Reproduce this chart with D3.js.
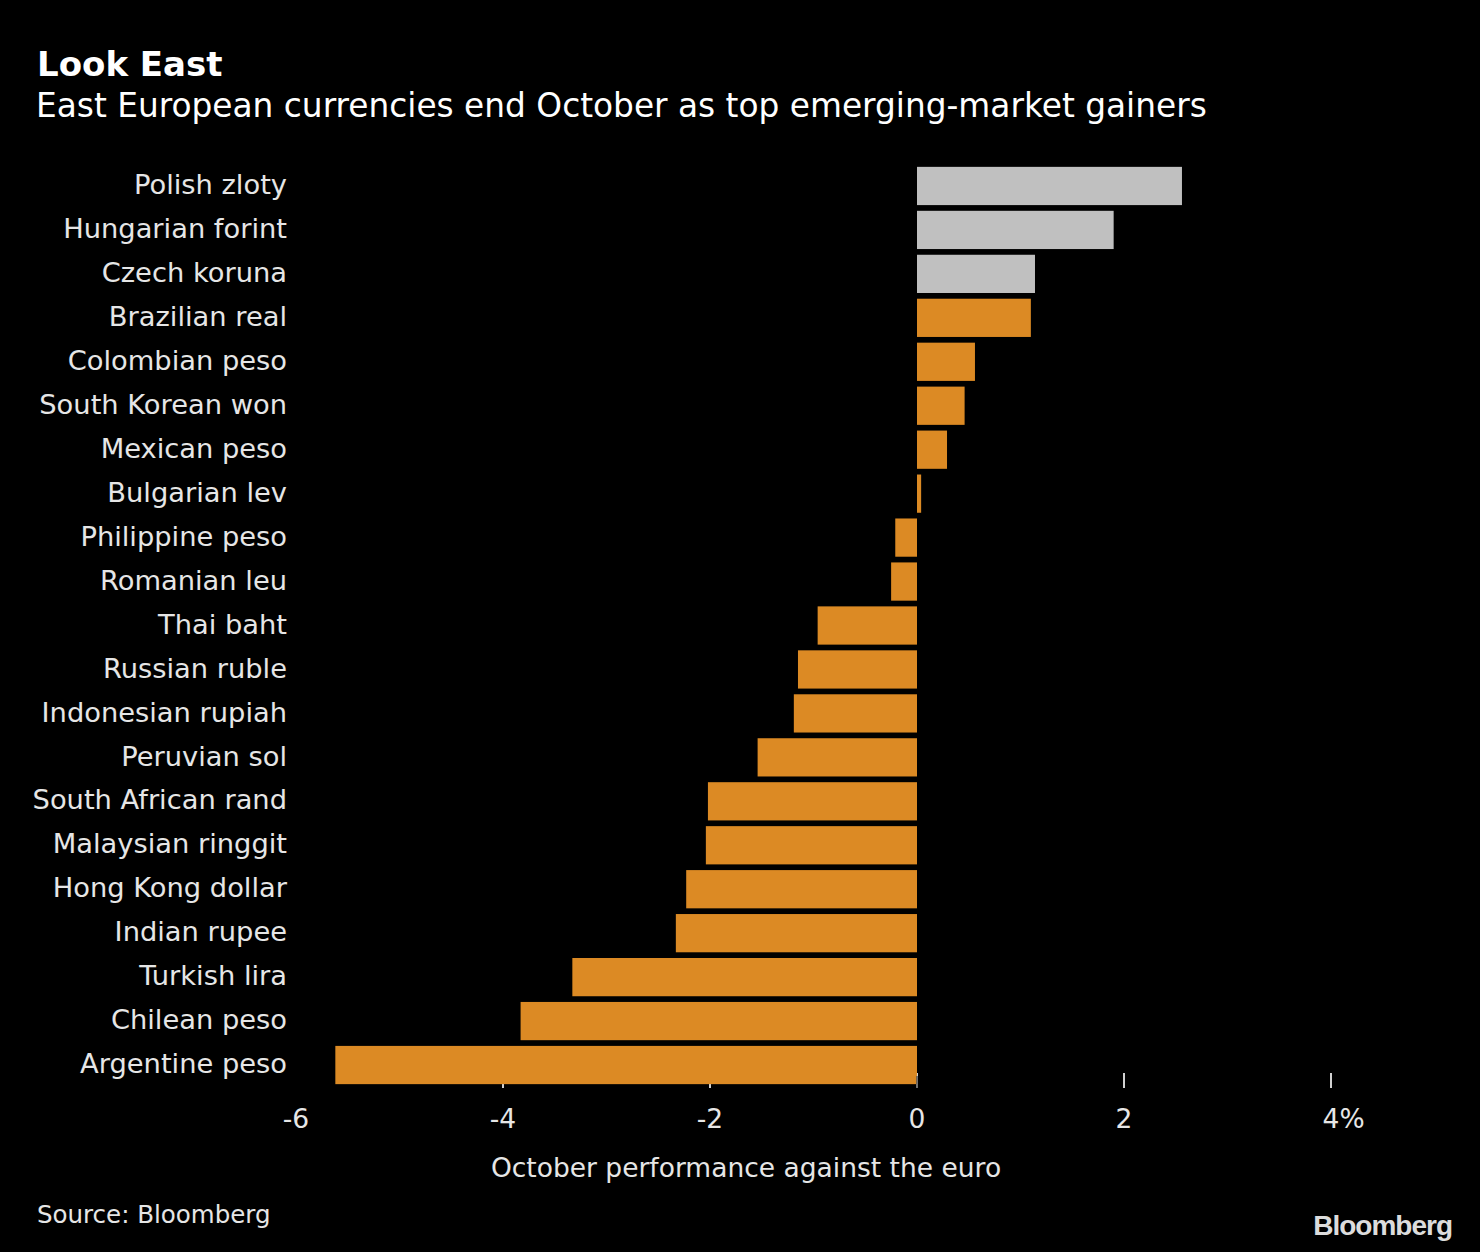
<!DOCTYPE html>
<html>
<head>
<meta charset="utf-8">
<script src="https://cdn.jsdelivr.net/npm/d3@7"></script>
<style>
  html, body { margin: 0; padding: 0; background: #000; }
  svg { display: block; }
</style>
</head>
<body>
<svg id="chart" width="1480" height="1252"></svg>
<script>
const categories = ["Polish zloty","Hungarian forint","Czech koruna","Brazilian real","Colombian peso","South Korean won","Mexican peso","Bulgarian lev","Philippine peso","Romanian leu","Thai baht","Russian ruble","Indonesian rupiah","Peruvian sol","South African rand","Malaysian ringgit","Hong Kong dollar","Indian rupee","Turkish lira","Chilean peso","Argentine peso"];
const values = [2.56, 1.90, 1.14, 1.10, 0.56, 0.46, 0.29, 0.04, -0.21, -0.25, -0.96, -1.15, -1.19, -1.54, -2.02, -2.04, -2.23, -2.33, -3.33, -3.83, -5.62];
const highlighted = ["Polish zloty","Hungarian forint","Czech koruna"];
const tickValues = [-6, -4, -2, 0, 2, 4];
const title = "Look East";
const subtitle = "East European currencies end October as top emerging-market gainers";
const axisTitle = "October performance against the euro";
const source = "Source: Bloomberg";

const svg = d3.select("#chart");
svg.append("rect").attr("width", 1480).attr("height", 1252).attr("fill", "#000");

const font = '"DejaVu Sans", sans-serif';

const x = d3.scaleLinear().domain([-6, 4]).range([296, 1331]);
const y = d3.scaleBand().domain(categories).range([164, 1087]).paddingInner(0.13).paddingOuter(0.065);

svg.append("g").selectAll("line").data(tickValues.filter(d => d !== -6)).join("line")
  .attr("x1", d => x(d)).attr("x2", d => x(d))
  .attr("y1", 1073).attr("y2", 1088)
  .attr("stroke", "#d0d0d0").attr("stroke-width", 2);

svg.append("g").selectAll("rect").data(categories).join("rect")
  .attr("x", (d, i) => x(Math.min(0, values[i])))
  .attr("width", (d, i) => Math.abs(x(values[i]) - x(0)))
  .attr("y", d => y(d))
  .attr("height", y.bandwidth())
  .attr("fill", d => highlighted.includes(d) ? "#c0c0c0" : "#dc8a24");

svg.append("line").attr("x1", x(0)).attr("x2", x(0)).attr("y1", 1076).attr("y2", 1088)
  .attr("stroke", "#555").attr("stroke-width", 1.5);

svg.append("g").selectAll("text").data(categories).join("text")
  .attr("x", 287)
  .attr("y", d => y(d) + y.bandwidth() / 2)
  .attr("dy", "0.3em")
  .attr("text-anchor", "end")
  .attr("fill", "#e6e6e6")
  .style("font-family", font)
  .style("font-size", "27.3px")
  .text(d => d);

const tl = svg.append("g").selectAll("text").data(tickValues).join("text")
  .attr("x", d => x(d))
  .attr("y", 1128)
  .attr("text-anchor", "middle")
  .attr("fill", "#e6e6e6")
  .style("font-family", font)
  .style("font-size", "26.5px")
  .text(d => d);
tl.filter((d, i) => i === tickValues.length - 1).each(function(d) {
  const w = this.getComputedTextLength();
  d3.select(this).append("tspan").attr("x", x(d) + w / 2).attr("text-anchor", "start").text("%");
});

svg.append("text").attr("x", 746).attr("y", 1177).attr("text-anchor", "middle")
  .attr("fill", "#e6e6e6").style("font-family", font).style("font-size", "26.5px").text(axisTitle);

svg.append("text").attr("x", 37).attr("y", 76).attr("fill", "#fff")
  .style("font-family", font).style("font-size", "34px").style("font-weight", "bold").text(title);
svg.append("text").attr("x", 36).attr("y", 117).attr("fill", "#fff")
  .style("font-family", font).style("font-size", "32.8px").text(subtitle);

svg.append("text").attr("x", 37).attr("y", 1223).attr("fill", "#e6e6e6")
  .style("font-family", font).style("font-size", "24.5px").text(source);

svg.append("text").attr("x", 1452).attr("y", 1235).attr("text-anchor", "end").attr("fill", "#dcdcdc")
  .style("font-family", '"Liberation Sans", Arial, sans-serif').style("font-size", "28px")
  .style("font-weight", "bold").style("letter-spacing", "-1px").text("Bloomberg");
</script>
</body>
</html>
